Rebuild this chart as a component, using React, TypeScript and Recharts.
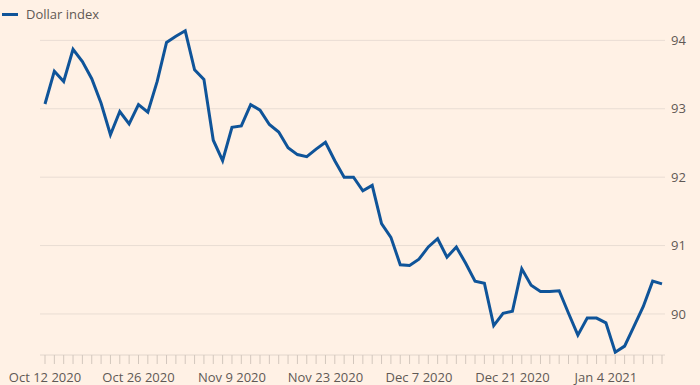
import { LineChart, Line, XAxis, YAxis, CartesianGrid } from "recharts";

const dates = [
  "Oct 12 2020", "Oct 13 2020", "Oct 14 2020", "Oct 15 2020", "Oct 16 2020",
  "Oct 19 2020", "Oct 20 2020", "Oct 21 2020", "Oct 22 2020", "Oct 23 2020",
  "Oct 26 2020", "Oct 27 2020", "Oct 28 2020", "Oct 29 2020", "Oct 30 2020",
  "Nov 2 2020", "Nov 3 2020", "Nov 4 2020", "Nov 5 2020", "Nov 6 2020",
  "Nov 9 2020", "Nov 10 2020", "Nov 11 2020", "Nov 12 2020", "Nov 13 2020",
  "Nov 16 2020", "Nov 17 2020", "Nov 18 2020", "Nov 19 2020", "Nov 20 2020",
  "Nov 23 2020", "Nov 24 2020", "Nov 25 2020", "Nov 26 2020", "Nov 27 2020",
  "Nov 30 2020", "Dec 1 2020", "Dec 2 2020", "Dec 3 2020", "Dec 4 2020",
  "Dec 7 2020", "Dec 8 2020", "Dec 9 2020", "Dec 10 2020", "Dec 11 2020",
  "Dec 14 2020", "Dec 15 2020", "Dec 16 2020", "Dec 17 2020", "Dec 18 2020",
  "Dec 21 2020", "Dec 22 2020", "Dec 23 2020", "Dec 24 2020", "Dec 25 2020",
  "Dec 28 2020", "Dec 29 2020", "Dec 30 2020", "Dec 31 2020", "Jan 1 2021",
  "Jan 4 2021", "Jan 5 2021", "Jan 6 2021", "Jan 7 2021", "Jan 8 2021",
  "Jan 11 2021", "Jan 12 2021",
];

const dollarIndex = [
  93.07, 93.55, 93.4, 93.87, 93.69, 93.44, 93.08, 92.62, 92.96, 92.78,
  93.06, 92.95, 93.4, 93.97, 94.06, 94.14, 93.57, 93.43, 92.54, 92.24,
  92.73, 92.75, 93.06, 92.98, 92.77, 92.66, 92.43, 92.33, 92.3, 92.41,
  92.51, 92.24, 92.0, 92.0, 91.8, 91.88, 91.32, 91.12, 90.72, 90.71,
  90.8, 90.98, 91.1, 90.83, 90.98, 90.74, 90.48, 90.45, 89.83, 90.01,
  90.04, 90.66, 90.42, 90.33, 90.33, 90.34, 90.01, 89.69, 89.94, 89.94,
  89.87, 89.44, 89.53, 89.82, 90.11, 90.48, 90.44,
];

const xLabels = [
  "Oct 12 2020", "Oct 26 2020", "Nov 9 2020", "Nov 23 2020",
  "Dec 7 2020", "Dec 21 2020", "Jan 4 2021",
];

const yTicks = [90, 91, 92, 93, 94];

const data = dates.map((date, i) => ({ date, value: dollarIndex[i] }));

const FONT = "'Open Sans', sans-serif";
const TEXT = "#5f5955";

// right-hand value labels, text only
const YTick = ({ x, y, payload }: any) => (
  <text
    x={x}
    y={y}
    dy="0.355em"
    textAnchor="start"
    fontSize={13}
    fontFamily={FONT}
    fill={TEXT}
  >
    {payload.value}
  </text>
);

export default function App() {
  return (
    <div
      style={{
        position: "absolute",
        left: 0,
        top: 0,
        width: 700,
        height: 385,
        background: "#fff1e5",
        fontFamily: FONT,
      }}
    >
      <div
        style={{
          position: "absolute",
          left: 2,
          top: 5,
          display: "flex",
          alignItems: "center",
          fontSize: 13,
          color: TEXT,
        }}
      >
        <span
          style={{
            display: "inline-block",
            width: 16,
            height: 3,
            background: "#0f5499",
            marginRight: 8,
          }}
        />
        Dollar index
      </div>
      <LineChart
        width={700}
        height={385}
        data={data}
        margin={{ top: 13, right: 0, left: 40, bottom: 0 }}
      >
        <CartesianGrid
          horizontal={true}
          vertical={false}
          horizontalValues={yTicks}
          stroke="#e9ddd3"
        />
        <XAxis
          dataKey="date"
          interval={0}
          height={30}
          padding={{ left: 5, right: 3 }}
          stroke="#e2d6cc"
          tickLine={{ stroke: "#d3c7bd" }}
          tickSize={9}
          tickMargin={9}
          tick={{ fontSize: 13, fill: TEXT, fontFamily: FONT }}
          tickFormatter={(v: string) => (xLabels.includes(v) ? v : "")}
        />
        <YAxis
          orientation="right"
          width={35}
          domain={[89.4, 94.4]}
          ticks={yTicks}
          axisLine={false}
          tickLine={false}
          tickSize={5}
          tickMargin={1}
          tick={YTick}
        />
        <Line
          dataKey="value"
          stroke="#0f5499"
          strokeWidth={3}
          dot={false}
          activeDot={false}
          type="linear"
          isAnimationActive={false}
        />
      </LineChart>
    </div>
  );
}
